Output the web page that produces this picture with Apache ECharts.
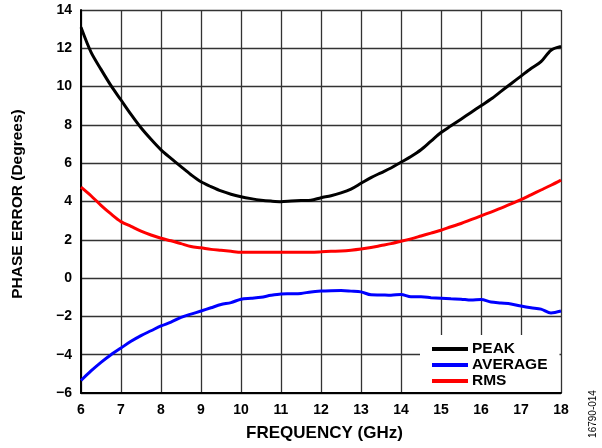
<!DOCTYPE html>
<html>
<head>
<meta charset="utf-8">
<script src="https://cdn.jsdelivr.net/npm/echarts@6/dist/echarts.min.js"></script>
<style>html,body{margin:0;padding:0;background:#fff}#c{width:602px;height:448px}</style>
</head>
<body>
<div id="c"></div>
<script>
var freq = [6,6.25,6.5,6.75,7,7.25,7.5,7.75,8,8.25,8.5,8.75,9,9.25,9.5,9.75,10,10.25,10.5,10.75,11,11.25,11.5,11.75,12,12.25,12.5,12.75,13,13.25,13.5,13.75,14,14.25,14.5,14.75,15,15.25,15.5,15.75,16,16.25,16.5,16.75,17,17.25,17.5,17.75,18];
var peak = [13.1,11.8,10.9,10.05,9.3,8.55,7.85,7.25,6.7,6.25,5.82,5.4,5.03,4.78,4.55,4.38,4.25,4.15,4.07,4.02,3.99,4.02,4.05,4.07,4.2,4.3,4.45,4.65,4.95,5.25,5.5,5.75,6.05,6.35,6.7,7.15,7.6,7.95,8.3,8.65,9.0,9.35,9.75,10.15,10.55,10.95,11.3,11.9,12.1];
var average = [-5.35,-4.85,-4.4,-4.0,-3.65,-3.3,-3.0,-2.75,-2.5,-2.3,-2.05,-1.88,-1.72,-1.55,-1.38,-1.28,-1.1,-1.05,-1.0,-0.9,-0.83,-0.82,-0.8,-0.72,-0.68,-0.66,-0.65,-0.68,-0.72,-0.87,-0.88,-0.9,-0.85,-0.98,-0.98,-1.02,-1.05,-1.08,-1.1,-1.15,-1.12,-1.25,-1.3,-1.35,-1.46,-1.55,-1.62,-1.82,-1.72];
var rms = [4.75,4.3,3.8,3.35,2.95,2.7,2.45,2.25,2.08,1.95,1.8,1.65,1.58,1.5,1.45,1.4,1.35,1.35,1.35,1.35,1.35,1.35,1.35,1.35,1.37,1.4,1.42,1.46,1.52,1.6,1.7,1.8,1.92,2.05,2.2,2.35,2.5,2.68,2.85,3.05,3.25,3.45,3.65,3.87,4.1,4.35,4.6,4.85,5.12];
var seriesNames = ['PEAK','AVERAGE','RMS'];
var colors = ['#000000','#0000ff','#ff0000'];

function pairs(ys){ return freq.map(function(x,i){ return [x, ys[i]]; }); }

var chart = echarts.init(document.getElementById('c'), null, {renderer:'canvas'});
var font = 'Arial, "Liberation Sans", sans-serif';
chart.setOption({
  animation: false,
  backgroundColor: '#fff',
  grid: {left: 81, right: 41, top: 10, bottom: 55, containLabel: false},
  xAxis: {
    type: 'value', min: 6, max: 18, interval: 1,
    name: 'FREQUENCY (GHz)', nameLocation: 'middle', nameGap: 32,
    nameTextStyle: {color:'#000', fontFamily: font, fontWeight:'bold', fontSize: 17, padding: [0,0,0,7]},
    axisLine: {show: true, onZero: false, lineStyle: {color:'#000', width: 2}},
    axisTick: {show: false},
    axisLabel: {color:'#000', fontFamily: font, fontWeight:'bold', fontSize: 14, margin: 10},
    splitLine: {show: true, lineStyle: {color:'#333', width: 1.3}}
  },
  yAxis: {
    type: 'value', min: -6, max: 14, interval: 2,
    axisLine: {show: true, onZero: false, lineStyle: {color:'#000', width: 2}},
    axisTick: {show: false},
    axisLabel: {color:'#000', fontFamily: font, fontWeight:'bold', fontSize: 14, margin: 9,
      formatter: function(v){ return v < 0 ? '\u2212' + Math.abs(v) : String(v); }},
    splitLine: {show: true, lineStyle: {color:'#333', width: 1.3}}
  },
  legend: {
    orient: 'vertical', left: 420, top: 335,
    backgroundColor: '#fff',
    padding: [6, 12, 3, 12],
    itemGap: 0,
    itemWidth: 36, itemHeight: 4,
    icon: 'rect',
    textStyle: {color:'#000', fontFamily: font, fontWeight:'bold', fontSize: 15.5, padding:[0,0,0,-1], lineHeight: 15.5},
    data: seriesNames
  },
  graphic: [{
    type: 'text', x: 18, y: 204,
    rotation: Math.PI/2,
    style: {text: 'PHASE ERROR (Degrees)', fill:'#000', textAlign:'center', textVerticalAlign:'middle',
      font: 'bold 15.5px Arial, "Liberation Sans", sans-serif'}
  }, {
    type: 'text', x: 593, y: 414,
    rotation: Math.PI/2,
    style: {text: '16790-014', fill:'#000', textAlign:'center', textVerticalAlign:'middle',
      font: '10px Arial, "Liberation Sans", sans-serif'}
  }],
  series: seriesNames.map(function(n, k){
    return {
      name: n, type: 'line', data: pairs([peak, average, rms][k]),
      showSymbol: false, symbol: 'none', smooth: 0.3,
      lineStyle: {color: colors[k], width: 3},
      itemStyle: {color: colors[k]}, z: 3
    };
  })
});
</script>
</body>
</html>
